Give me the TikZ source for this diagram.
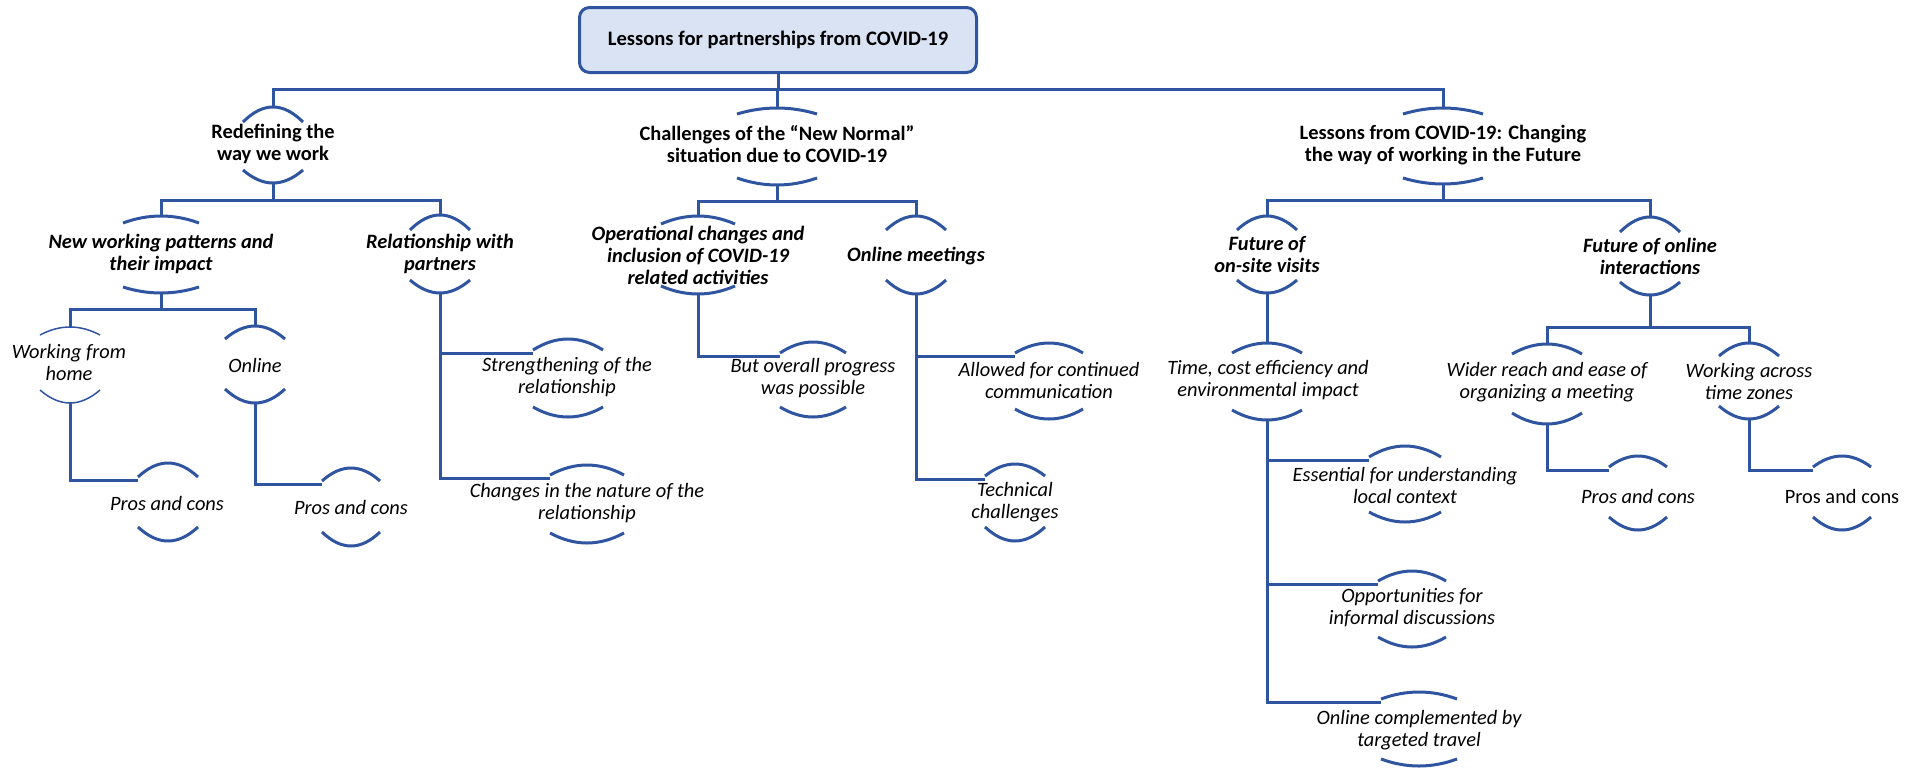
\documentclass[tikz,border=0pt]{standalone}
\usepackage{fontspec}
\setmainfont{Carlito}
\definecolor{lc}{RGB}{47,85,160}
\definecolor{tf}{RGB}{218,227,243}
\tikzset{
 conn/.style={draw=lc, line width=3pt},
 arcl/.style={draw=lc, line width=3pt},
 thinarc/.style={draw=lc, line width=1.5pt},
 lone/.style={font=\fontsize{20.4}{22}\selectfont\bfseries, align=center, inner sep=0pt},
 ltwo/.style={font=\fontsize{20.4}{22}\selectfont\bfseries\itshape, align=center, inner sep=0pt},
 lthree/.style={font=\fontsize{20.4}{22}\selectfont\itshape, align=center, inner sep=0pt},
 lplain/.style={font=\fontsize{20.4}{22}\selectfont, align=center, inner sep=0pt},
 titlebox/.style={draw=lc, fill=tf, line width=3pt, rounded corners=10pt, minimum width=397pt, minimum height=65pt, font=\fontsize{20.6}{22}\selectfont\bfseries},
}
% [style]{name}{cx}{ytop}{ytop-ends}{ybot-ends}{ybot}{halfwidth}
\newcommand\twoarcs[8][arcl]{%
 \coordinate (#2-t) at (#3,#4);
 \coordinate (#2-b) at (#3,#7);
 \coordinate (#2-l) at ({#3-#8},{#5+3});
 \draw[#1] ({#3-#8},#5) .. controls ({#3-#8/3},{#4-(#5-#4)/3}) and ({#3+#8/3},{#4-(#5-#4)/3}) .. ({#3+#8},#5);
 \draw[#1] ({#3-#8},#6) .. controls ({#3-#8/3},{#7+(#7-#6)/3}) and ({#3+#8/3},{#7+(#7-#6)/3}) .. ({#3+#8},#6);
}
\begin{document}
\begin{tikzpicture}[x=1pt,y=-1pt]
\useasboundingbox (0,0) rectangle (1921,769);
% title
\node[titlebox] (T) at (778,40) {Lessons for partnerships from COVID-19};
% level 1
\twoarcs{A}{273}{107}{122}{170}{183}{30}
\node[lone] (A) at (273,144) {Redefining the\\way we work};
\twoarcs{B}{777}{108}{114}{178}{185}{40}
\node[lone] (B) at (777,144) {Challenges of the “New Normal”\\situation due to COVID-19};
\twoarcs{C}{1443}{108}{114}{178}{184}{40}
\node[lone] (C) at (1443,145) {Lessons from COVID-19: Changing\\the way of working in the Future};
% level 2
\twoarcs{A1}{161}{216}{223}{287}{293}{38}
\node[ltwo] (A1) at (161,254) {New working patterns and\\their impact};
\twoarcs{A2}{440}{215}{230}{280}{293}{30}
\node[ltwo] (A2) at (440,254) {Relationship with\\partners};
\twoarcs{B1}{698}{216}{224}{286}{294}{37}
\node[ltwo] (B1) at (698,255) {Operational changes and\\inclusion of COVID-19\\related activities};
\twoarcs{B2}{916}{216}{230}{280}{294}{30}
\node[ltwo] (B2) at (916,256) {Online meetings};
\twoarcs{C1}{1267}{216}{230}{280}{293}{30}
\node[ltwo] (C1) at (1267,254) {Future of\\on-site visits};
\twoarcs{C2}{1650}{217}{232}{282}{295}{30}
\node[ltwo] (C2) at (1650,256) {Future of online\\interactions};
% level 3
\twoarcs[thinarc]{A1a}{70}{327}{335}{390}{403}{30}
\node[lthree] (A1a) at (69,362) {Working from\\home};
\twoarcs{A1b}{255}{326}{339}{389}{403}{30}
\node[lthree] (A1b) at (255,365) {Online};
\twoarcs{A1a1}{168}{463}{477}{527}{541}{30}
\node[lthree] (A1a1) at (167,503) {Pros and cons};
\twoarcs{A1b1}{351}{468}{481}{532}{546}{29}
\node[lthree] (A1b1) at (351,507) {Pros and cons};
\twoarcs{A2a}{568}{339}{350}{407}{417}{35}
\node[lthree] (A2a) at (567,377) {Strengthening of the\\relationship};
\twoarcs{A2b}{587}{465}{475}{533}{543}{37}
\node[lthree] (A2b) at (587,503) {Changes in the nature of the\\relationship};
\twoarcs{B1a}{813}{342}{353}{407}{417}{33}
\node[lthree] (B1a) at (813,378) {But overall progress\\was possible};
\twoarcs{B2a}{1049}{343}{353}{409}{419}{34}
\node[lthree] (B2a) at (1049,380) {Allowed for continued\\communication};
\twoarcs{B2b}{1015}{464}{476}{527}{541}{30}
\node[lthree] (B2b) at (1015,502) {Technical\\challenges};
\twoarcs{C1a}{1267}{343}{353}{410}{420}{35}
\node[lthree] (C1a) at (1268,380) {Time, cost efficiency and\\environmental impact};
\twoarcs{C1a1}{1405}{446}{457}{512}{522}{36}
\node[lthree] (C1a1) at (1405,485) {Essential for understanding\\local context};
\twoarcs{C1a2}{1412}{571}{581}{637}{647}{34}
\node[lthree] (C1a2) at (1412,608) {Opportunities for\\informal discussions};
\twoarcs{C1a3}{1419}{692}{699}{759}{766}{38}
\node[lthree] (C1a3) at (1419,730) {Online complemented by\\targeted travel};
\twoarcs{C2a}{1547}{344}{354}{413}{424}{35}
\node[lthree] (C2a) at (1547,382) {Wider reach and ease of\\organizing a meeting};
\twoarcs{C2b}{1749}{343}{356}{406}{419}{30}
\node[lthree] (C2b) at (1749,381) {Working across\\time zones};
\twoarcs{C2a1}{1638}{456}{467}{517}{530}{29}
\node[lthree] (C2a1) at (1638,496) {Pros and cons};
\twoarcs{C2b1}{1842}{456}{467}{517}{530}{29}
\node[lplain] (C2b1) at (1842,496) {Pros and cons};
% buses
\coordinate (bus0) at (0,89);
\coordinate (busA) at (0,200);
\coordinate (busB) at (0,201);
\coordinate (busC) at (0,200);
\coordinate (busA1) at (0,309);
\coordinate (busC2) at (0,327);
% connectors
\draw[conn] (T.south) -- (T.south |- bus0);
\draw[conn] (A-t) -- (A-t |- bus0) -- (C-t |- bus0) -- (C-t);
\draw[conn] (B-t) -- (B-t |- bus0);
\draw[conn] (A-b) -- (A-b |- busA);
\draw[conn] (A1-t) -- (A1-t |- busA) -- (A2-t |- busA) -- (A2-t);
\draw[conn] (B-b) -- (B-b |- busB);
\draw[conn] (B1-t) -- (B1-t |- busB) -- (B2-t |- busB) -- (B2-t);
\draw[conn] (C-b) -- (C-b |- busC);
\draw[conn] (C1-t) -- (C1-t |- busC) -- (C2-t |- busC) -- (C2-t);
\draw[conn] (A1-b) -- (A1-b |- busA1);
\draw[conn] (A1a-t) -- (A1a-t |- busA1) -- (A1b-t |- busA1) -- (A1b-t);
\draw[conn] (C2-b) -- (C2-b |- busC2);
\draw[conn] (C2a-t) -- (C2a-t |- busC2) -- (C2b-t |- busC2) -- (C2b-t);
\draw[conn] (C1-b) -- (C1a-t);
\draw[conn] (A1a-b) |- (A1a1-l);
\draw[conn] (A1b-b) |- (A1b1-l);
\draw[conn] (A2-b) |- (A2a-l);
\draw[conn] (A2-b) |- (A2b-l);
\draw[conn] (B1-b) |- (B1a-l);
\draw[conn] (B2-b) |- (B2a-l);
\draw[conn] (B2-b) |- (B2b-l);
\draw[conn] (C1a-b) |- (C1a1-l);
\draw[conn] (C1a-b) |- (C1a2-l);
\draw[conn] (C1a-b) |- (C1a3-l);
\draw[conn] (C2a-b) |- (C2a1-l);
\draw[conn] (C2b-b) |- (C2b1-l);
\end{tikzpicture}
\end{document}
